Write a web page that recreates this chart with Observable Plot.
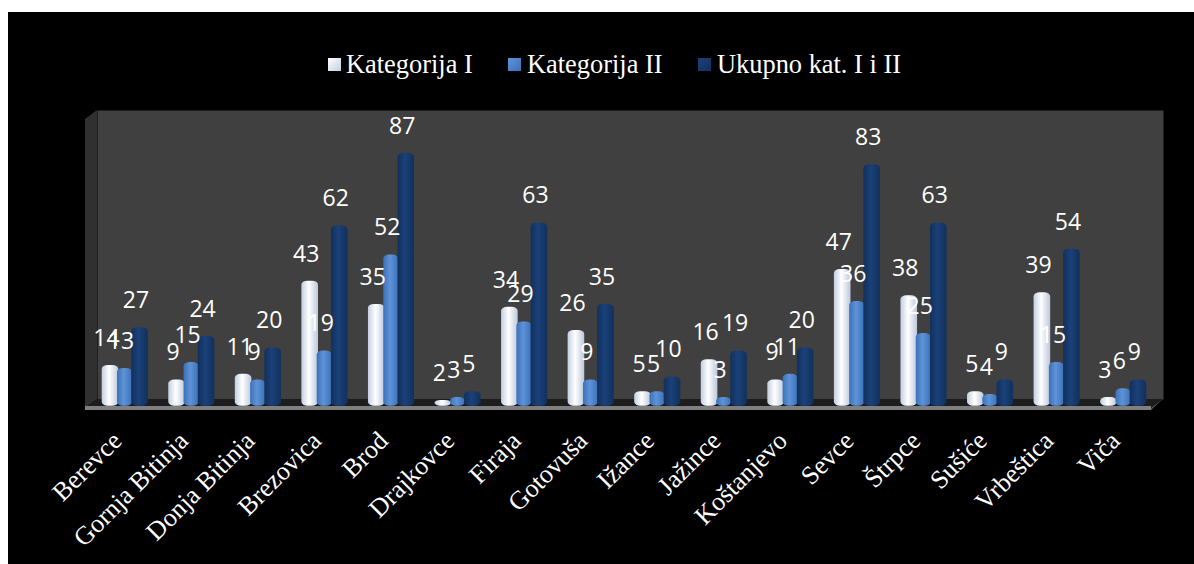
<!DOCTYPE html>
<html><head><meta charset="utf-8">
<script src="https://cdn.jsdelivr.net/npm/d3@7"></script>
<script src="https://cdn.jsdelivr.net/npm/@observablehq/plot@0.6"></script>
<style>
html,body{margin:0;background:#fff;}
#panel{position:absolute;left:8px;top:12px;width:1186px;height:552px;background:#000;overflow:hidden;}
#legend{position:relative;height:78px;color:#fff;font:26.4px "Liberation Serif",serif;}
#legend span{position:absolute;top:37px;white-space:nowrap;line-height:30px;}
#legend i{position:absolute;top:46px;width:13px;height:13px;}
svg{display:block;}
</style></head><body>
<div id="panel"><div id="legend"></div><div id="chart"></div></div>
<script>
const categories=["Berevce","Gornja Bitinja","Donja Bitinja","Brezovica","Brod","Drajkovce","Firaja","Gotovuša","Ižance","Jažince","Koštanjevo","Sevce","Štrpce","Sušiće","Vrbeštica","Viča"];
const kategorijaI=[14,9,11,43,35,2,34,26,5,16,9,47,38,5,39,3];
const kategorijaII=[13,15,9,19,52,3,29,9,5,3,11,36,25,4,15,6];
const ukupno=[27,24,20,62,87,5,63,35,10,19,20,83,63,9,54,9];
const seriesNames=["Kategorija I","Kategorija II","Ukupno kat. I i II"];
const gradients=[["#c3cfe2","#ffffff","#bcc8dc"],["#3b71b8","#5f93d8","#3b71b8"],["#11305c","#1b4179","#11305c"]];
const band=66.55;
const layout=[{l:10.3,w:16.6,dx:-3},{l:25.6,w:15,dx:-3},{l:39.8,w:16.6,dx:-3}];

function defs(){
  const s=d3.create("svg:defs");
  gradients.forEach((g,i)=>{
    const lg=s.append("linearGradient").attr("id","g"+i);
    g.forEach((c,j)=>lg.append("stop").attr("offset",[0,.45,1][j]).attr("stop-color",c));
  });
  return s.node();
}
function room(index,scales,values,dims){
  const L=dims.marginLeft,R=dims.width-dims.marginRight,T=dims.marginTop,B=dims.height-dims.marginBottom;
  const d=12,f=9;
  const g=d3.create("svg:g");
  g.append("polygon").attr("points",`${L},${T} ${L-d},${T+f} ${L-d},${B+f} ${L},${B}`).attr("fill","#303030");
  g.append("polygon").attr("points",`${L},${B} ${R},${B} ${R-d},${B+f} ${L-d},${B+f}`).attr("fill","#1d1d1d");
  g.append("rect").attr("x",L-d).attr("y",B+f-2).attr("width",R-L).attr("height",4).attr("fill","#808080");
  g.append("polygon").attr("points",`${R},${B} ${R-d},${B+f} ${R-d},${B+f+2}`).attr("fill","#555");
  return g.node();
}
const series=[kategorijaI,kategorijaII,ukupno];
const barMarks=series.map((vals,i)=>Plot.barY(categories,{x:d=>d,y:vals,fill:`url(#g${i})`,insetLeft:layout[i].l,insetRight:band-layout[i].l-layout[i].w,rx:6,ry:4}));
const labelMarks=series.map((vals,i)=>Plot.text(categories,{x:d=>d,y:vals,text:vals.map(String),dx:layout[i].l+layout[i].w/2-band/2+layout[i].dx-1,dy:-27,fill:"#fff",fontSize:23,fontFamily:"Open Sans"}));
const chart=Plot.plot({
  width:1186,height:474,
  marginLeft:89,marginRight:31,marginTop:20,marginBottom:165,
  style:{background:"transparent",color:"#fff"},
  x:{domain:categories,range:[83.4,1148.4],padding:0,round:false,label:null},
  y:{domain:[0,101.7],range:[315.7,20],label:null},
  marks:[
    defs,
    Plot.frame({fill:"#404040",stroke:"none"}),
    room,
    ...barMarks,
    ...labelMarks,
    Plot.axisX({tickRotate:-45,tickSize:0,tickPadding:24,dx:-8,dy:13,fontSize:26,fontFamily:"Liberation Serif",fill:"#fff",label:null,anchor:"bottom"}),
    Plot.axisY({ticks:[],label:null})
  ]
});
document.getElementById("chart").append(chart);
const lx=[[319.5,338],[500,519],[690,709]];
const leg=document.getElementById("legend");
seriesNames.forEach((n,i)=>{
  const sw=document.createElement("i");sw.style.left=lx[i][0]+"px";
  sw.style.background=`linear-gradient(135deg,${gradients[i][1]},${gradients[i][0]})`;
  const t=document.createElement("span");t.style.left=lx[i][1]+"px";t.textContent=n;
  leg.append(sw,t);
});
</script></body></html>
